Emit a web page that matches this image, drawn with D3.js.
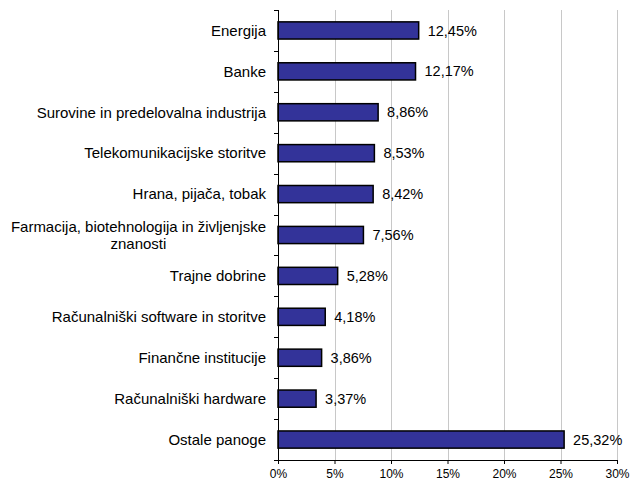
<!DOCTYPE html>
<html>
<head>
<meta charset="utf-8">
<script src="https://cdn.jsdelivr.net/npm/d3@7"></script>
<style>
  body { margin: 0; background: #fff; }
  text { font-family: "Liberation Sans", Arial, sans-serif; font-size: 12px; fill: #000; }
  .cat { font-size: 15px; }
  .val { font-size: 14.5px; }
</style>
</head>
<body>
<svg id="chart"></svg>
<script>
// Sector shares (%)
const categories = [
    ['Energija'],
    ['Banke'],
    ['Surovine in predelovalna industrija'],
    ['Telekomunikacijske storitve'],
    ['Hrana, pijača, tobak'],
    ['Farmacija, biotehnologija in življenjske', 'znanosti'],
    ['Trajne dobrine'],
    ['Računalniški software in storitve'],
    ['Finančne institucije'],
    ['Računalniški hardware'],
    ['Ostale panoge']
];
const values = [12.45, 12.17, 8.86, 8.53, 8.42, 7.56, 5.28, 4.18, 3.86, 3.37, 25.32];
const xTicks = [0, 5, 10, 15, 20, 25, 30];

const width = 631, height = 481;
const margin = { top: 10, right: 14, bottom: 21, left: 278 };
const innerW = width - margin.left - margin.right;
const innerH = height - margin.top - margin.bottom;

const svg = d3.select('#chart')
    .attr('width', width)
    .attr('height', height);

const chart = svg.append('g')
    .attr('transform', `translate(${margin.left}, ${margin.top})`);

const x = d3.scaleLinear().domain([0, 30]).range([0, innerW]);
const y = d3.scaleBand()
    .domain(d3.range(categories.length))
    .range([0, innerH])
    .paddingInner(0.58)
    .paddingOuter(0.29);

const step = innerH / categories.length;

// vertical gridlines
chart.selectAll('.grid')
    .data(xTicks.slice(1))
    .enter().append('line')
    .attr('class', 'grid')
    .attr('x1', d => Math.round(x(d)) + 0.5)
    .attr('x2', d => Math.round(x(d)) + 0.5)
    .attr('y1', 0)
    .attr('y2', innerH)
    .attr('stroke', '#c8c8c8')
    .attr('stroke-width', 1);

// bars
chart.selectAll('.bar')
    .data(values)
    .enter().append('rect')
    .attr('class', 'bar')
    .attr('x', x(0))
    .attr('y', (d, i) => y(i))
    .attr('width', d => x(d) - x(0))
    .attr('height', y.bandwidth())
    .attr('fill', '#333399')
    .attr('stroke', '#000')
    .attr('stroke-width', 1.5);

// value labels
chart.selectAll('.val')
    .data(values)
    .enter().append('text')
    .attr('class', 'val')
    .attr('x', d => x(d) + 9)
    .attr('y', (d, i) => y(i) + y.bandwidth() / 2)
    .attr('dy', '0.35em')
    .text(d => d.toFixed(2).replace('.', ',') + '%');

// y axis line and ticks between categories
chart.append('line')
    .attr('x1', 0.5).attr('x2', 0.5)
    .attr('y1', 0).attr('y2', innerH)
    .attr('stroke', '#000');

chart.selectAll('.ytick')
    .data(d3.range(categories.length + 1))
    .enter().append('line')
    .attr('class', 'ytick')
    .attr('x1', -4).attr('x2', 0)
    .attr('y1', d => Math.round(d * step) + 0.5)
    .attr('y2', d => Math.round(d * step) + 0.5)
    .attr('stroke', '#000');

// category labels
const labels = chart.selectAll('.cat')
    .data(categories)
    .enter().append('text')
    .attr('class', 'cat')
    .attr('y', (d, i) => y(i) + y.bandwidth() / 2);

labels.each(function (lines) {
    const t = d3.select(this);
    if (lines.length === 1) {
        t.attr('x', -12).attr('text-anchor', 'end').attr('dy', '0.35em').text(lines[0]);
    } else {
        const tmp = t.append('tspan').text(lines[0]);
        const w = tmp.node().getComputedTextLength();
        tmp.remove();
        const cx = -12 - w / 2;
        t.attr('text-anchor', 'middle');
        lines.forEach((l, j) => {
            t.append('tspan')
                .attr('x', cx)
                .attr('dy', j === 0 ? (0.35 - 0.55) + 'em' : '1.15em')
                .text(l);
        });
    }
});

// x axis
const xAxis = d3.axisBottom(x)
    .tickValues(xTicks)
    .tickSize(4)
    .tickFormat(d => d + '%');

const xg = chart.append('g')
    .attr('transform', `translate(0, ${innerH})`)
    .call(xAxis);
xg.select('.domain').attr('stroke', '#000');
xg.selectAll('text')
    .attr('font-family', null)
    .attr('font-size', null)
    .attr('dy', '0.95em');
</script>
</body>
</html>
